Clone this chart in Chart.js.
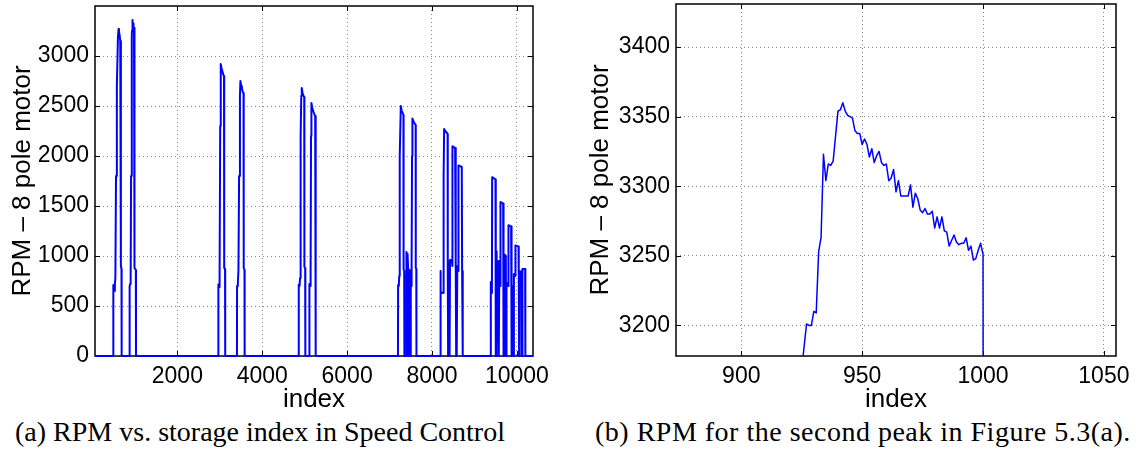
<!DOCTYPE html>
<html>
<head>
<meta charset="utf-8">
<title>RPM - speed control</title>
<script src="https://cdn.jsdelivr.net/npm/chart.js@4.4.1/dist/chart.umd.min.js"></script>
<style>
  html, body { margin: 0; padding: 0; background: #fff; }
  body { width: 1139px; height: 456px; position: relative; overflow: hidden; }
  .panel { position: absolute; top: 0; height: 415px; }
  #panel-a { left: 0; width: 560px; }
  #panel-b { left: 570px; width: 569px; }
  .caption {
    position: absolute; top: 416px; text-align: center;
    font-family: "Liberation Serif", "DejaVu Serif", serif;
    font-size: 28px; line-height: 32px; white-space: nowrap; color: #000;
  }
  #cap-a { left: 0; width: 520px; }
  #cap-b { left: 595px; width: 534px; letter-spacing: 0.5px; }
</style>
</head>
<body>
<div class="panel" id="panel-a"><canvas id="chart-a"></canvas></div>
<div class="panel" id="panel-b"><canvas id="chart-b"></canvas></div>
<div class="caption" id="cap-a">(a) RPM vs. storage index in Speed Control</div>
<div class="caption" id="cap-b">(b) RPM for the second peak in Figure 5.3(a).</div>

<script>
// ---- data ---------------------------------------------------------------
// overview trace as [index, rpm] break points (the second peak is filled in
// from the detailed peak arrays below)
const overviewTrace = [
  [1, 0], [490, 0],
  // burst 1
  [492, 710], [510, 650], [528, 720], [540, 780], [555, 1800], [575, 2700], [600, 3180],
  [614, 3270], [625, 3240], [640, 3210], [655, 3150], [668, 3120], [672, 900], [684, 870], [688, 0],
  [874, 0], [876, 700], [888, 720], [900, 760], [910, 1800], [918, 2700],
  [1022, 860], [1026, 0],
  // burst 2
  [2965, 0], [2967, 715], [2985, 690], [2995, 760], [3010, 2300], [3023, 2920], [3040, 2880],
  [3060, 2850], [3085, 2810], [3100, 2800], [3104, 880], [3124, 870], [3128, 0],
  [3405, 0], [3407, 700], [3425, 720], [3440, 860], [3455, 1800], [3475, 2600], [3486, 2750],
  [3505, 2700], [3520, 2680], [3541, 2640], [3560, 2630], [3564, 880], [3582, 860], [3586, 0],
  // burst 3
  [4858, 0], [4861, 715], [4880, 700], [4892, 780], [4905, 2200], [4920, 2600], [4932, 2680],
  [4950, 2630], [4975, 2600], [4990, 2590], [4994, 890], [5012, 880], [5016, 0],
  [5110, 0], [5112, 720], [5130, 700], [5140, 800], [5150, 2200], [5159, 2530], [5180, 2480],
  [5210, 2440], [5235, 2410], [5248, 2400], [5252, 880], [5262, 860], [5265, 0],
  // burst 4
  [7198, 0], [7202, 710], [7218, 700], [7228, 800], [7240, 2000], [7265, 2500], [7285, 2450],
  [7310, 2430], [7327, 2410], [7331, 870], [7345, 850], [7350, 0],
  [7396, 0], [7398, 1040], [7412, 1020], [7420, 960], [7432, 1000], [7440, 850], [7446, 0],
  [7462, 0], [7466, 820], [7474, 860], [7478, 0],
  [7496, 0], [7500, 720], [7512, 700], [7520, 900], [7530, 2000], [7539, 2375], [7560, 2350],
  [7585, 2330], [7615, 2310], [7618, 880], [7630, 870], [7634, 0],
  // burst 5
  [8198, 0], [8200, 850], [8206, 640], [8262, 630], [8270, 650], [8278, 1800], [8286, 2270],
  [8310, 2250], [8349, 2232], [8368, 2220], [8372, 880], [8380, 0], [8390, 950], [8398, 0],
  [8406, 940], [8414, 0], [8425, 960], [8440, 950], [8466, 960], [8480, 900],
  [8482, 2098], [8500, 2090], [8545, 2080], [8558, 2070], [8561, 860], [8570, 0], [8578, 900],
  [8588, 0], [8596, 880], [8604, 900], [8620, 850],
  [8624, 1905], [8650, 1900], [8702, 1890], [8710, 850], [8722, 820], [8727, 0],
  // burst 6
  [9383, 0], [9386, 740], [9392, 640], [9412, 630], [9418, 1788], [9450, 1780], [9496, 1765],
  [9500, 880], [9506, 0], [9512, 1048], [9520, 1020], [9526, 0], [9532, 950], [9560, 940],
  [9572, 950], [9576, 0], [9584, 730], [9600, 740], [9610, 700],
  [9614, 1540], [9650, 1530], [9677, 1525], [9682, 830], [9690, 0], [9702, 0], [9708, 1015],
  [9740, 1000], [9746, 0], [9756, 730], [9790, 720], [9800, 700],
  [9802, 1308], [9840, 1300], [9865, 1295], [9870, 800], [9880, 0], [9890, 700], [9905, 700],
  [9912, 0], [9930, 820], [9960, 800],
  [9966, 1105], [10000, 1100], [10038, 1095], [10044, 830], [10052, 0], [10064, 850],
  [10090, 830], [10110, 850], [10118, 0], [10128, 0],
  [10132, 870], [10195, 870], [10200, 0], [10380, 0],
];

// second peak, sample by sample
const peakIndex = [
  924, 925, 926, 927, 928, 929, 930, 931, 932, 933, 934, 935, 936, 937, 938, 939,
  940, 941, 942, 943, 944, 945, 946, 947, 948, 949, 950, 951, 952, 953, 954, 955,
  956, 957, 958, 959, 960, 961, 962, 963, 964, 965, 966, 967, 968, 969, 970, 971,
  972, 973, 974, 975, 976, 977, 978, 979, 980, 981, 982, 983, 984, 985, 986, 987,
  988, 989, 990, 991, 992, 993, 994, 995, 996, 997, 998, 999, 1000, 1001,
];
const peakRpm = [
  3100, 3168, 3185, 3201, 3200, 3200, 3210, 3209, 3253, 3263, 3323, 3304, 3316, 3315, 3318, 3336,
  3354, 3355, 3360, 3354, 3351, 3350, 3349, 3340, 3338, 3338, 3330, 3334, 3330, 3321, 3327, 3317,
  3322, 3325, 3317, 3315, 3316, 3304, 3306, 3312, 3296, 3304, 3293, 3293, 3293, 3293, 3301, 3285,
  3295, 3291, 3283, 3281, 3284, 3280, 3280, 3282, 3270, 3278, 3270, 3278, 3268, 3267, 3257, 3261,
  3265, 3260, 3258, 3259, 3259, 3263, 3254, 3257, 3247, 3248, 3254, 3259, 3251, 880,
];

const overviewXTicks = [2000, 4000, 6000, 8000, 10000];
const overviewYTicks = [0, 500, 1000, 1500, 2000, 2500, 3000];
const peakXTicks = [900, 950, 1000, 1050];
const peakYTicks = [3200, 3250, 3300, 3350, 3400];

const yLabel = "RPM \u2013 8 pole motor";
const xLabel = "index";

// ---- styling -------------------------------------------------------------
Chart.defaults.font.family = "'Liberation Sans', Arial, sans-serif";
Chart.defaults.font.size = 23;
Chart.defaults.color = "#000";

const LINE_BLUE = "#0000ff";

// MATLAB-ish axes: solid box plus short ticks pointing inward on all sides
const matlabAxes = {
  id: "matlabAxes",
  beforeDatasetsDraw(chart) {
    const { ctx, chartArea: a, scales } = chart;
    const len = 5;
    ctx.save();
    ctx.strokeStyle = "#000";
    ctx.lineWidth = 1;
    ctx.beginPath();
    scales.x.ticks.forEach((t) => {
      const px = Math.round(scales.x.getPixelForValue(t.value)) + 0.5;
      ctx.moveTo(px, a.bottom); ctx.lineTo(px, a.bottom - len);
      ctx.moveTo(px, a.top); ctx.lineTo(px, a.top + len);
    });
    scales.y.ticks.forEach((t) => {
      const py = Math.round(scales.y.getPixelForValue(t.value)) + 0.5;
      ctx.moveTo(a.left, py); ctx.lineTo(a.left + len, py);
      ctx.moveTo(a.right, py); ctx.lineTo(a.right - len, py);
    });
    ctx.stroke();
    ctx.lineWidth = 1.5;
    ctx.strokeRect(a.left, a.top, a.right - a.left, a.bottom - a.top);
    ctx.restore();
  },
};

// keep the plot box exactly where it is in the figure: no label overhang
function pinScale(s, size) {
  if (s.isHorizontal()) s.height = size;
  else s.width = size;
  s.paddingTop = 0;
  s.paddingBottom = 0;
  s.paddingLeft = 0;
  s.paddingRight = 0;
}

function axisOptions(o) {
  return {
    x: {
      type: "linear",
      min: o.xMin, max: o.xMax,
      afterBuildTicks: (s) => { s.ticks = o.xTicks.map((v) => ({ value: v })); },
      afterFit: (s) => pinScale(s, o.xHeight),
      ticks: { padding: o.xPad, maxRotation: 0, autoSkip: false, callback: (v) => String(v) },
      grid: { color: "#8a8a8a", drawTicks: false, lineWidth: 1 },
      border: { display: false, dash: [1, 3] },
      title: { display: true, text: xLabel, font: { size: 26 }, padding: { top: 0, bottom: 0 } },
    },
    y: {
      type: "linear",
      min: o.yMin, max: o.yMax,
      afterBuildTicks: (s) => { s.ticks = o.yTicks.map((v) => ({ value: v })); },
      afterFit: (s) => pinScale(s, o.yWidth),
      ticks: { padding: 6, autoSkip: false, callback: (v) => String(v) },
      grid: { color: "#8a8a8a", drawTicks: false, lineWidth: 1 },
      border: { display: false, dash: [1, 3] },
      title: { display: true, text: yLabel, font: { size: 26 }, padding: { top: o.yTitlePad, bottom: 0 } },
    },
  };
}

function makeChart(id, points, o) {
  return new Chart(document.getElementById(id), {
    type: "line",
    data: {
      datasets: [{
        data: points,
        borderColor: LINE_BLUE,
        borderWidth: o.lineWidth,
        borderJoinStyle: "round",
        pointRadius: 0,
        tension: 0,
        fill: false,
        clip: o.clip,
      }],
    },
    options: {
      responsive: true,
      maintainAspectRatio: false,
      animation: false,
      devicePixelRatio: 1,
      layout: { padding: o.padding },
      plugins: { legend: { display: false }, tooltip: { enabled: false } },
      events: [],
      scales: axisOptions(o),
    },
    plugins: [matlabAxes],
  });
}

const peakPoints = peakIndex.map((x, i) => ({ x, y: peakRpm[i] }));
const overviewPoints = overviewTrace
  .map(([x, y]) => ({ x, y }))
  .concat(peakPoints)
  .sort((p, q) => p.x - q.x);

makeChart("chart-a", overviewPoints, {
  xMin: 60, xMax: 10380, yMin: 0, yMax: 3500,
  xTicks: overviewXTicks, yTicks: overviewYTicks,
  yWidth: 95, xHeight: 59, xPad: 7, yTitlePad: 7,
  padding: { left: 0, top: 6, right: 27, bottom: 0 },
  lineWidth: 2,
  clip: { left: 0, top: 0, right: 0, bottom: 2 },
});

makeChart("chart-b", peakPoints, {
  xMin: 873, xMax: 1055, yMin: 3178, yMax: 3431,
  xTicks: peakXTicks, yTicks: peakYTicks,
  yWidth: 106, xHeight: 59, xPad: 7, yTitlePad: 15,
  padding: { left: 0, top: 4, right: 23, bottom: 0 },
  lineWidth: 1.5,
  clip: 0,
});
</script>
</body>
</html>
